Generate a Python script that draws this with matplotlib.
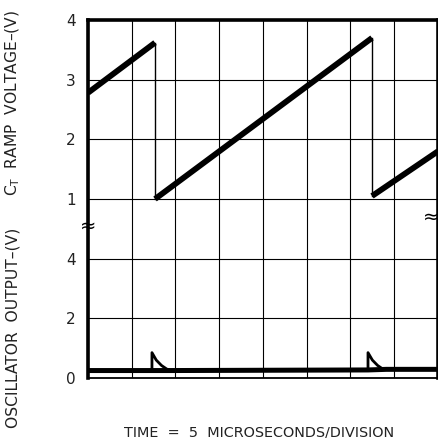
import matplotlib
matplotlib.use("Agg")
import matplotlib.pyplot as plt
import numpy as np

# time axis: 8 divisions of 5 microseconds
t_max = 40.0

# C_T ramp voltage (V), thick ramps and thin retrace drops
ramp_segments = [
    ([0.0, 7.66], [2.78, 3.62]),
    ([7.66, 32.46], [1.00, 3.70]),
    ([32.46, 40.0], [1.05, 1.80]),
]
ramp_drops = [
    ([7.66, 7.66], [3.62, 1.00]),
    ([32.46, 32.46], [3.70, 1.05]),
]

# oscillator output (V): flat baseline plus the two discharge spikes
osc_t = [0.0, 7.31, 9.5, 32.0, 34.1, 40.0]
osc_v = [0.25, 0.25, 0.25, 0.27, 0.29, 0.29]
spike_t = [[7.31, 7.31, 7.8, 8.4, 9.0, 9.5], [32.0, 32.0, 32.5, 33.1, 33.6, 34.1]]
spike_v = [[0.25, 0.85, 0.60, 0.42, 0.30, 0.25], [0.27, 0.85, 0.60, 0.42, 0.32, 0.29]]

# y axis in divisions: lower trace 0..2 div (2 V/div), upper trace 3..6 div (1 V/div)
ytick_pos = [0, 1, 2, 3, 4, 5, 6]
ytick_lab = ["0", "2", "4", "1", "2", "3", "4"]


def ramp_div(v):
    return np.array(v) + 2.0


def osc_div(v):
    return np.array(v) / 2.0


fig = plt.figure(figsize=(4.39, 4.38), dpi=100)
ax = fig.add_axes([88 / 439, 1 - 378 / 438, 350 / 439, 358 / 438])

ax.set_xlim(0, t_max)
ax.set_ylim(0, 6)
ax.set_xticks(np.arange(0, 45, 5))
ax.set_xticklabels([])
ax.set_yticks(ytick_pos)
ax.set_yticklabels(ytick_lab, fontsize=11, color="#222222")
ax.tick_params(length=0, pad=9)
ax.grid(True, color="black", linewidth=0.8)

for sp in ["left", "top", "right"]:
    ax.spines[sp].set_linewidth(2.6)
ax.spines["bottom"].set_linewidth(1.3)

for xs, vs in ramp_segments:
    ax.plot(xs, ramp_div(vs), color="black", linewidth=4.2, solid_capstyle="butt")
for xs, vs in ramp_drops:
    ax.plot(xs, ramp_div(vs), color="black", linewidth=1.0)

ax.plot(osc_t, osc_div(osc_v), color="black", linewidth=3.6)
for xs, vs in zip(spike_t, spike_v):
    ax.plot(xs, osc_div(vs), color="black", linewidth=2.0, solid_joinstyle="round")

# axis break marks
ax.text(0.05, 2.55, "≈", fontsize=14, ha="center", va="center",
        color="black", clip_on=False)
ax.text(t_max - 0.75, 2.7, "≈", fontsize=14, ha="center", va="center",
        color="black", clip_on=False)

fig.text(13 / 439, 1 - 103 / 438, r"C$_\mathregular{T}$  RAMP  VOLTAGE–(V)",
         rotation=90, ha="center", va="center", fontsize=11.2, color="#222222")
fig.text(13 / 439, 1 - 328 / 438, "OSCILLATOR  OUTPUT–(V)",
         rotation=90, ha="center", va="center", fontsize=11.2, color="#222222")
fig.text(259 / 439, 1 - 432 / 438, "TIME  =  5  MICROSECONDS/DIVISION",
         ha="center", va="center", fontsize=10.4, color="#222222")

fig.savefig("out.png", dpi=100)
